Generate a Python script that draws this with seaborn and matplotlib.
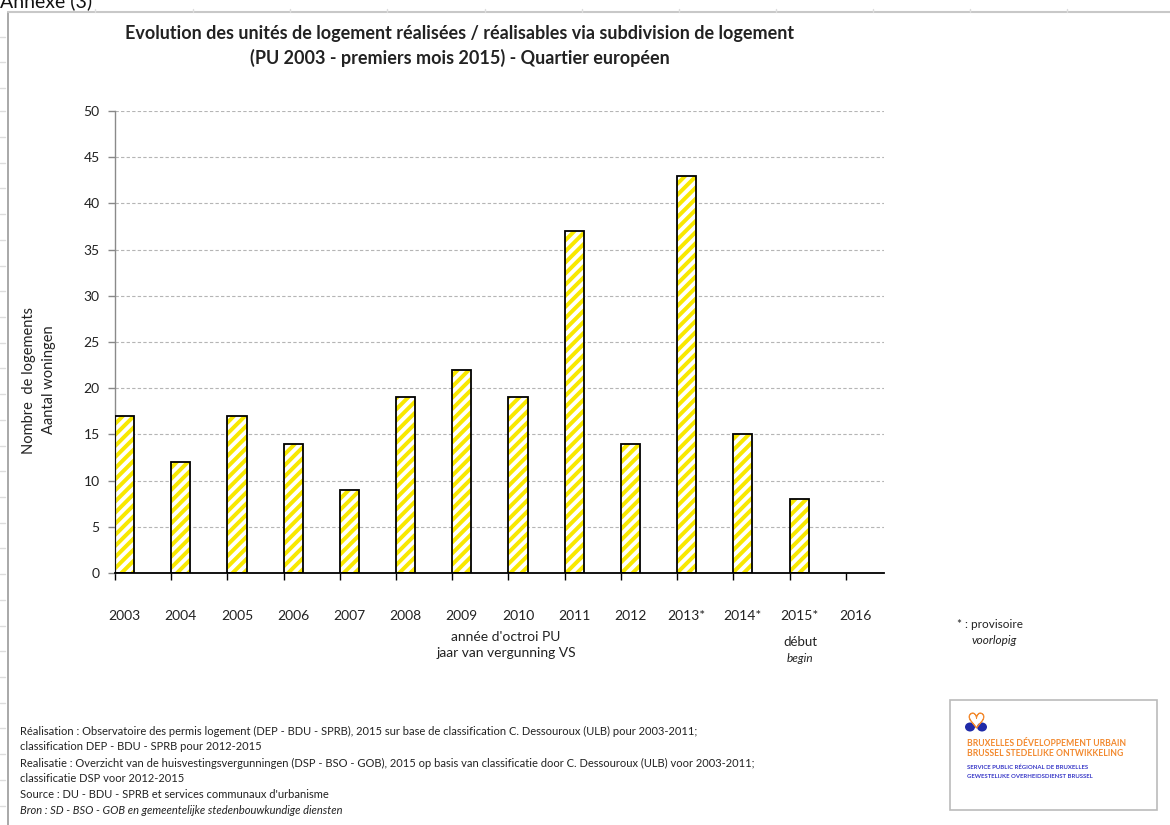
import numpy as np
import pandas as pd
import matplotlib
matplotlib.use("Agg")
import matplotlib.pyplot as plt
import seaborn as sns
from matplotlib.patches import Rectangle, Ellipse, Circle

years = ["2003", "2004", "2005", "2006", "2007", "2008", "2009", "2010",
         "2011", "2012", "2013*", "2014*", "2015*", "2016"]
units = [17, 12, 17, 14, 9, 19, 22, 19, 37, 14, 43, 15, 8, np.nan]
yticks = [0, 5, 10, 15, 20, 25, 30, 35, 40, 45, 50]

title = ("Evolution des unités de logement réalisées / réalisables via subdivision de logement\n"
         "(PU 2003 - premiers mois 2015) - Quartier européen")
ylabel = "Nombre  de logements\nAantal woningen"
xlabel = "année d'octroi PU\njaar van vergunning VS"
notes = [
    ("Réalisation : Observatoire des permis logement (DEP - BDU - SPRB), 2015 sur base de classification C. Dessouroux (ULB) pour 2003-2011;", "normal"),
    ("classification DEP - BDU - SPRB pour 2012-2015", "normal"),
    ("Realisatie : Overzicht van de huisvestingsvergunningen (DSP - BSO - GOB), 2015 op basis van classificatie door C. Dessouroux (ULB) voor 2003-2011;", "normal"),
    ("classificatie DSP voor 2012-2015", "normal"),
    ("Source : DU - BDU - SPRB et services communaux d'urbanisme", "normal"),
    ("Bron : SD - BSO - GOB en gemeentelijke stedenbouwkundige diensten", "italic"),
]

df = pd.DataFrame({"year": years, "units": units})

sns.set_theme(style="white")
plt.rcParams["font.family"] = ["Lato", "DejaVu Sans"]
plt.rcParams["hatch.linewidth"] = 2.8

fig = plt.figure(figsize=(11.7, 8.25), dpi=100)
ax = fig.add_axes([115 / 1170, 1 - 573 / 825, (884 - 115) / 1170, (573 - 111) / 825])

yellow = "#f8e800"
sns.barplot(data=df, x="year", y="units", order=years, color=yellow, width=0.34,
            saturation=1, ax=ax, zorder=2)
for p in ax.patches:
    p.set_facecolor(yellow)
    p.set_edgecolor("white")
    p.set_hatch("///")
    p.set_linewidth(0)
# outlines
sns.barplot(data=df, x="year", y="units", order=years, width=0.34, fill=False,
            color="black", saturation=1, ax=ax, zorder=3, linewidth=1.3)
for p in ax.patches[len(years):]:
    p.set_edgecolor("black")
    p.set_hatch(None)

n = len(years)
ax.set_xlim(-0.17, n - 0.32 - 0.17)
ax.set_ylim(0, 50)
ax.set_yticks(yticks)
ax.set_yticklabels([str(v) for v in yticks], fontsize=10, color="#222222")
ax.set_xticks([i - 0.17 for i in range(n)])
ax.set_xticklabels([""] * n)
ax.set_xticks(range(n), minor=True)
ax.set_xticklabels(years, minor=True, fontsize=10, color="#222222")
ax.tick_params(axis="x", which="major", direction="out", length=5, width=1, color="black", bottom=True)
ax.tick_params(axis="x", which="minor", length=0, pad=27)
ax.tick_params(axis="y", direction="out", length=5, width=1, color="#888888", left=True, pad=6)
ax.yaxis.grid(True, linestyle=(0, (3, 2)), color="#b5b5b5", linewidth=0.8)
ax.set_axisbelow(True)
for s in ["top", "right"]:
    ax.spines[s].set_visible(False)
ax.spines["left"].set_color("#8a8a8a")
ax.spines["left"].set_linewidth(1)
ax.spines["bottom"].set_color("black")
ax.spines["bottom"].set_linewidth(1.3)
ax.set_xlabel("")
ax.set_ylabel("")

# Titles and labels
fig.text(460 / 1170, 1 - 46 / 825, title, ha="center", va="center", fontsize=13,
         fontweight="bold", color="#222222", linespacing=1.45)
fig.text(39 / 1170, 1 - 380 / 825, ylabel, ha="center", va="center", rotation=90,
         fontsize=10.5, color="#222222", linespacing=1.55)
fig.text(506 / 1170, 1 - 645 / 825, xlabel, ha="center", va="center", fontsize=10,
         color="#222222", linespacing=1.45)
fig.text(800 / 1170, 1 - 642 / 825, "début", ha="center", va="center", fontsize=9.5, color="#222222")
fig.text(800 / 1170, 1 - 659 / 825, "begin", ha="center", va="center", fontsize=8.5,
         style="italic", color="#222222")
fig.text(957 / 1170, 1 - 625 / 825, "* : provisoire", ha="left", va="center", fontsize=8.5, color="#222222")
fig.text(972 / 1170, 1 - 641 / 825, "voorlopig", ha="left", va="center", fontsize=8.5,
         style="italic", color="#222222")

for k, (line, st) in enumerate(notes):
    fig.text(20 / 1170, 1 - (731 + 16 * k) / 825, line, ha="left", va="center",
             fontsize=8, style=st, color="#222222")

# Spreadsheet frame and header text
fig.text(0, 1 - 1 / 825, "Annexe (3)", ha="left", va="center", fontsize=14, color="#111111")
fig.add_artist(plt.Line2D([8 / 1170, 8 / 1170], [0, 1 - 12 / 825], color="#9a9a9a", lw=1.2))
fig.add_artist(plt.Line2D([8 / 1170, 1], [1 - 12 / 825, 1 - 12 / 825], color="#c8c8c8", lw=1.5))
for yy in [37, 62, 88, 111, 137, 163, 188, 214, 240, 266, 291, 317, 343, 368, 394, 420,
           446, 471, 497, 523, 548, 574, 600, 626, 651, 677, 703, 728, 754, 780, 806]:
    fig.add_artist(plt.Line2D([0, 5 / 1170], [1 - yy / 825] * 2, color="#dddddd", lw=1))
for xx in [95, 193, 290, 387, 485, 582, 679, 776, 873, 970, 1067]:
    fig.add_artist(plt.Line2D([xx / 1170] * 2, [1 - 9 / 825, 1 - 12 / 825], color="#dddddd", lw=1))

# Logo box
fig.add_artist(Rectangle((950 / 1170, 1 - 810 / 825), (1157 - 950) / 1170, (810 - 700) / 825,
                         transform=fig.transFigure, fill=False, edgecolor="#bbbbbb", lw=1.2))
fig.add_artist(Ellipse((970 / 1170, 1 - 727 / 825), 10 / 1170, 9 / 825,
                       transform=fig.transFigure, facecolor="#1f2aa8", edgecolor="none"))
fig.add_artist(Ellipse((982 / 1170, 1 - 727 / 825), 10 / 1170, 9 / 825,
                       transform=fig.transFigure, facecolor="#1f2aa8", edgecolor="none"))
fig.add_artist(plt.Line2D([976 / 1170], [1 - 720 / 825], marker="$\\heartsuit$", markersize=11,
                          color="#f28a30", markeredgewidth=0.6))
fig.text(967 / 1170, 1 - 743 / 825, "BRUXELLES DÉVELOPPEMENT URBAIN", ha="left", va="center",
         fontsize=6.2, fontweight="bold", color="#f28a30")
fig.text(967 / 1170, 1 - 754 / 825, "BRUSSEL STEDELIJKE ONTWIKKELING", ha="left", va="center",
         fontsize=6.2, fontweight="bold", color="#f28a30")
fig.text(967 / 1170, 1 - 767 / 825, "SERVICE PUBLIC RÉGIONAL DE BRUXELLES", ha="left", va="center",
         fontsize=4.3, fontweight="bold", color="#3a3ac8")
fig.text(967 / 1170, 1 - 776 / 825, "GEWESTELIJKE OVERHEIDSDIENST BRUSSEL", ha="left", va="center",
         fontsize=4.3, fontweight="bold", color="#3a3ac8")

fig.savefig("out.png", dpi=100, facecolor="white")
